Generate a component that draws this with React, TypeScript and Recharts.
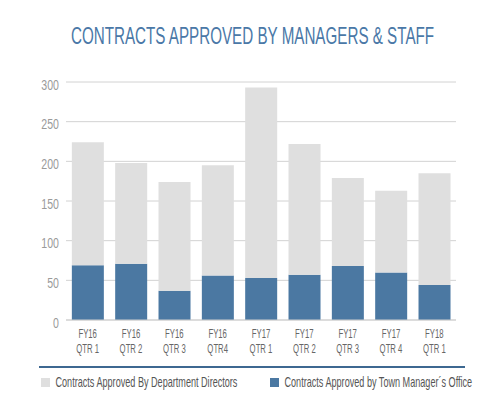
import { BarChart, Bar, XAxis, YAxis, CartesianGrid, Legend } from "recharts"

const quarters = [
  "FY16 QTR 1",
  "FY16 QTR 2",
  "FY16 QTR 3",
  "FY16 QTR4",
  "FY17 QTR 1",
  "FY17 QTR 2",
  "FY17 QTR 3",
  "FY17 QTR 4",
  "FY18 QTR 1",
]
const townManager = [69, 71, 37, 56, 53, 57, 68, 60, 44]
const deptDirectors = [155, 127, 137, 139, 240, 165, 111, 103, 141]
const yTicks = [0, 50, 100, 150, 200, 250, 300]

const data = quarters.map((q, i) => ({
  quarter: q,
  town: townManager[i],
  dept: deptDirectors[i],
}))

const FONT = "'Liberation Sans', Arial, sans-serif"
const BLUE = "#4b78a2"
const GRAY = "#dfdfdf"

// two-line quarter labels, squeezed to mimic the condensed face
const QuarterTick = (props: any) => {
  const { x, y, payload } = props
  const idx = payload.value.indexOf(" ")
  const top = payload.value.slice(0, idx)
  const bottom = payload.value.slice(idx + 1)
  return (
    <g transform={`translate(${x},${y}) scale(0.62,1)`}>
      <text x={0} y={10.3} textAnchor="middle" fill="#666" fontSize={12.5} fontFamily={FONT}>
        {top}
      </text>
      <text x={0} y={25.3} textAnchor="middle" fill="#666" fontSize={12.5} fontFamily={FONT}>
        {bottom}
      </text>
    </g>
  )
}

const ValueTick = (props: any) => {
  const { x, y, payload } = props
  return (
    <g transform={`translate(${x + 1},${y}) scale(0.73,1)`}>
      <text x={0} y={7.5} textAnchor="end" fill="#9a9a9a" fontSize={14.5} fontFamily={FONT}>
        {payload.value}
      </text>
    </g>
  )
}

const legendOrder = ["dept", "town"]

const renderLegend = (props: any) => {
  const payload = props.payload || []
  const lefts = [41, 270]
  return (
    <svg width={504} height={40} style={{ display: "block" }}>
      <line x1={39} x2={465} y1={1} y2={1} stroke="#3d6891" strokeWidth={2} />
      {legendOrder.map((key, index) => {
        const entry = payload.find((p: any) => p.dataKey === key)
        if (!entry) return null
        const x = lefts[index]
        return (
          <g key={`item-${index}`}>
            <rect x={x} y={12} width={9} height={9} fill={entry.color} />
            <g transform={`translate(${x + 14.5},20.7) scale(0.65,1)`}>
              <text x={0} y={0} fontSize={14} fill="#555" fontFamily={FONT}>
                {entry.value}
              </text>
            </g>
          </g>
        )
      })}
    </svg>
  )
}

export default function App() {
  return (
    <div style={{ position: "absolute", left: 0, top: 0, width: 504, height: 412, background: "#fff" }}>
      <svg width={504} height={60} style={{ position: "absolute", left: 0, top: 0 }}>
        <g transform="translate(252.5,44.3) scale(0.633,1)">
          <text x={0} y={0} textAnchor="middle" fill="#4a78a7" fontSize={24} fontFamily={FONT}>
            CONTRACTS APPROVED BY MANAGERS &amp; STAFF
          </text>
        </g>
      </svg>
      <BarChart
        width={504}
        height={412}
        data={data}
        margin={{ top: 82, right: 48, left: 0, bottom: 52 }}
        barCategoryGap="13.5%"
      >
        <CartesianGrid vertical={false} stroke="#d2d2d2" />
        <XAxis
          dataKey="quarter"
          axisLine={{ stroke: "#cfcfcf" }}
          tickLine={false}
          height={40}
          interval={0}
          tick={<QuarterTick />}
        />
        <YAxis
          domain={[0, 300]}
          ticks={yTicks}
          axisLine={false}
          tickLine={false}
          width={66}
          tick={<ValueTick />}
        />
        <Legend
          layout="horizontal"
          verticalAlign="middle"
          align="center"
          wrapperStyle={{ top: 366, left: 0, width: 504 }}
          content={renderLegend}
        />
        <Bar
          dataKey="town"
          name="Contracts Approved by Town Manager´s Office"
          stackId="a"
          fill={BLUE}
          isAnimationActive={false}
        />
        <Bar
          dataKey="dept"
          name="Contracts Approved By Department Directors"
          stackId="a"
          fill={GRAY}
          isAnimationActive={false}
        />
      </BarChart>
    </div>
  )
}
